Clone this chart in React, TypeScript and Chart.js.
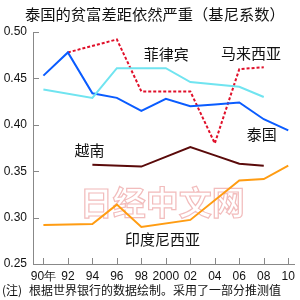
import React, { useEffect, useRef } from "react";
import { Chart, registerables } from "chart.js";

Chart.register(...registerables);

const title = "泰国的贫富差距依然严重（基尼系数）";
const notePrefix = "(注)";
const note = "根据世界银行的数据绘制。采用了一部分推测值";
const watermark = "日经中文网";

const xTicks = [1990, 1992, 1994, 1996, 1998, 2000, 2002, 2004, 2006, 2008, 2010];
const xTickLabels = ["90年", "92", "94", "96", "98", "2000", "02", "04", "06", "08", "10"];
const yTicks = [0.25, 0.3, 0.35, 0.4, 0.45, 0.5];

const thaiYears = [1990, 1992, 1994, 1996, 1998, 2000, 2002, 2004, 2006, 2008, 2010];
const thaiValues = [0.453, 0.478, 0.434, 0.429, 0.415, 0.428, 0.42, 0.422, 0.424, 0.406, 0.394];

const philYears = [1990, 1994, 1996, 2000, 2002, 2006, 2008];
const philValues = [0.438, 0.429, 0.461, 0.461, 0.446, 0.441, 0.43];

const malYears = [1992, 1996, 1998, 2002, 2004, 2006, 2008];
const malValues = [0.478, 0.492, 0.436, 0.436, 0.38, 0.46, 0.462];

const vietYears = [1994, 1998, 2002, 2004, 2006, 2008];
const vietValues = [0.357, 0.355, 0.376, 0.367, 0.358, 0.356];

const indoYears = [1990, 1994, 1996, 1998, 2002, 2006, 2008, 2010];
const indoValues = [0.292, 0.293, 0.314, 0.29, 0.2975, 0.34, 0.3415, 0.356];

const seriesLabels = [
  { text: "菲律宾", x: 1998.2, y: 0.4763 },
  { text: "马来西亚", x: 2004.5, y: 0.4774 },
  { text: "泰国", x: 2006.6, y: 0.39 },
  { text: "越南", x: 1992.55, y: 0.3728 },
  { text: "印度尼西亚", x: 1996.67, y: 0.2769 },
];

const pts = (xs: number[], ys: number[]) => xs.map((x, i) => ({ x, y: ys[i] }));

const CJK = '"Noto Sans CJK SC", "Noto Sans", sans-serif';
const LAT = '"Liberation Sans", Arial, sans-serif';

export default function App() {
  const ref = useRef<HTMLCanvasElement | null>(null);
  useEffect(() => {
    if (!ref.current) return;
    const textPlugin = {
      id: "texts",
      beforeDatasetsDraw(chart: any) {
        const ctx = chart.ctx;
        const xs = chart.scales.x;
        const ys = chart.scales.y;
        ctx.save();
        // watermark
        ctx.font = `bold 33px ${CJK}`;
        ctx.textAlign = "center";
        ctx.textBaseline = "middle";
        const wx = xs.getPixelForValue(1999.7);
        const wy = ys.getPixelForValue(0.3167);
        ctx.strokeStyle = "#f2bcbc";
        ctx.lineWidth = 1.2;
        ctx.strokeText(watermark, wx, wy);
        // inner ticks
        ctx.strokeStyle = "#888";
        ctx.lineWidth = 1;
        ctx.beginPath();
        for (const v of yTicks) {
          const py = Math.round(ys.getPixelForValue(v)) + 0.5;
          ctx.moveTo(xs.left, py);
          ctx.lineTo(xs.left + 6, py);
        }
        for (const v of xTicks) {
          const px = Math.round(xs.getPixelForValue(v)) + 0.5;
          ctx.moveTo(px, ys.bottom);
          ctx.lineTo(px, ys.bottom - 6);
        }
        ctx.stroke();
        ctx.restore();
      },
      afterDraw(chart: any) {
        const ctx = chart.ctx;
        const xs = chart.scales.x;
        const ys = chart.scales.y;
        ctx.save();
        ctx.fillStyle = "#111";
        ctx.textBaseline = "middle";
        ctx.textAlign = "left";
        ctx.font = `15px ${CJK}`;
        const tw = ctx.measureText(title).width;
        const ts = (15 * 260) / tw;
        ctx.font = `${ts}px ${CJK}`;
        ctx.fillText(title, 25, 14);
        ctx.font = `15px ${CJK}`;
        for (const l of seriesLabels) {
          ctx.fillText(l.text, xs.getPixelForValue(l.x), ys.getPixelForValue(l.y));
        }
        ctx.font = `12px ${CJK}`;
        ctx.fillText(notePrefix, 2, 290);
        ctx.fillText(note, 29, 290);
        ctx.restore();
      },
    };
    const ds = (label: string, data: any[], color: string, dash: number[] = []) => ({
      label,
      data,
      borderColor: color,
      backgroundColor: color,
      borderWidth: 2,
      borderDash: dash,
      pointRadius: 0,
      tension: 0,
      fill: false,
    });
    const chart = new Chart(ref.current, {
      type: "line",
      data: {
        datasets: [
          ds("菲律宾", pts(philYears, philValues), "#70e4f0"),
          ds("泰国", pts(thaiYears, thaiValues), "#0a5cff"),
          ds("越南", pts(vietYears, vietValues), "#5a0a0a"),
          ds("印度尼西亚", pts(indoYears, indoValues), "#ff9c12"),
          ds("马来西亚", pts(malYears, malValues), "#e0102a", [3, 2]),
        ],
      },
      options: {
        animation: false,
        responsive: false,
        devicePixelRatio: 1,
        layout: { padding: { top: 32, left: 0, right: 3, bottom: 0 } },
        plugins: { legend: { display: false }, tooltip: { enabled: false } },
        scales: {
          x: {
            type: "linear",
            min: 1989.15,
            max: 2010.5,
            afterFit: (s: any) => { s.height = 36; },
            afterBuildTicks: (s: any) => { s.ticks = xTicks.map((v) => ({ value: v })); },
            ticks: {
              autoSkip: false,
              maxRotation: 0,
              padding: 5,
              color: "#111",
              font: { family: LAT, size: 12 },
              callback: (v: any) => {
                const i = xTicks.indexOf(Number(v));
                return i >= 0 ? xTickLabels[i] : "";
              },
            },
            grid: { display: true, drawOnChartArea: false, drawTicks: false },
            border: { display: true, color: "#888", width: 1 },
          },
          y: {
            min: 0.25,
            max: 0.5,
            afterFit: (s: any) => { s.width = 33; },
            afterBuildTicks: (s: any) => { s.ticks = yTicks.map((v) => ({ value: v })); },
            ticks: {
              padding: 6,
              color: "#111",
              font: { family: LAT, size: 12 },
              callback: (v: any) => Number(v).toFixed(2),
            },
            grid: { display: true, drawOnChartArea: false, drawTicks: false },
            border: { display: true, color: "#888", width: 1 },
          },
        },
      },
      plugins: [textPlugin],
    });
    return () => chart.destroy();
  }, []);
  return (
    <div style={{ position: "fixed", left: 0, top: 0, width: 300, height: 300, background: "#fff" }}>
      <canvas ref={ref} width={300} height={300} />
    </div>
  );
}
